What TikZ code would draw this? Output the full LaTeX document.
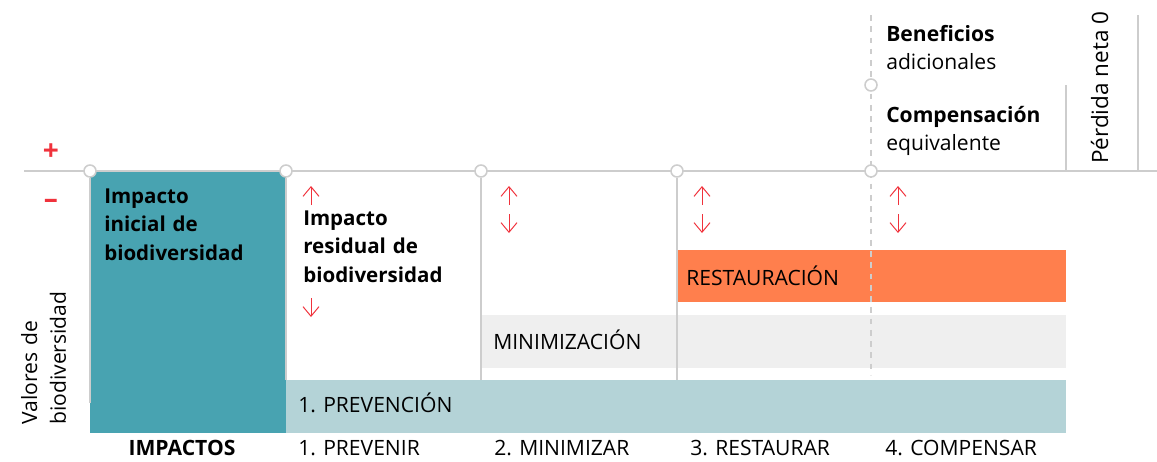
\documentclass[tikz,border=0pt]{standalone}
\usepackage{fontspec}
\setmainfont{Open Sans}
\usetikzlibrary{arrows.meta}

\definecolor{tealdark}{HTML}{48A3B1}
\definecolor{teallight}{HTML}{B4D3D7}
\definecolor{graylight}{HTML}{EFEFEF}
\definecolor{orangebar}{HTML}{FF7F4D}
\definecolor{redmark}{HTML}{F0323C}
\definecolor{lineg}{HTML}{CDCDCD}

\begin{document}
\begin{tikzpicture}[
x=0.025cm,y=-0.025cm,
dot/.style={circle,draw=lineg,fill=white,line width=1.1pt,minimum size=0.3cm,inner sep=0pt},
rule/.style={lineg,line width=1.1pt},
lbl/.style={anchor=base west,inner sep=0pt,font=\fontsize{15pt}{20.5pt}\selectfont},
blk/.style={lbl,text width=5cm,align=left},
hd/.style={blk,font=\fontsize{14.6pt}{20.5pt}\selectfont\bfseries},
sign/.style={text=redmark,font=\fontsize{20pt}{22pt}\selectfont\bfseries,inner sep=0pt},
arr/.style={redmark,line width=0.7pt,-{Straight Barb[length=2.4mm,width=4mm]}}
]
\useasboundingbox (0,0) rectangle (1157,461);

% bands
\fill[tealdark] (90,171) rectangle (286,433);
\fill[teallight] (286,380) rectangle (1066,433);
\fill[graylight] (481,315) rectangle (1066,368);
\fill[orangebar] (677,250) rectangle (1066,302);

% axis
\coordinate (ax0) at (24,171);
\coordinate (ax1) at (1157,171);
\draw[rule] (ax0) -- (ax1);
\draw[rule,dash pattern=on 4pt off 4pt] (871,15) -- (871,375);
\draw[rule] (1066,85) -- (1066,171);
\draw[rule] (1138,15) -- (1138,171);

\node[dot] (d0) at (90,171) {};
\node[dot] (d1) at (286,171) {};
\node[dot] (d2) at (481,171) {};
\node[dot] (d3) at (677,171) {};
\node[dot] (d4) at (871,171) {};
\node[dot] (d5) at (871,85) {};

\draw[rule] (d0) -- (90,403);
\draw[rule] (d1) -- (286,380);
\draw[rule] (d2) -- (481,380);
\draw[rule] (d3) -- (677,380);

\node[sign] (plus) at (51,152) {+};
\node[sign] (minus) at (51,204) {–};
\node[blk,rotate=90] (axis) at (37,425) {Valores de\\biodiversidad};

% texts
\node[hd] (ini) at (104,203) {Impacto\\inicial de\\biodiversidad};
\node[hd] (res) at (303,225) {Impacto\\residual de\\biodiversidad};
\node[blk] (ben) at (886,41) {\textbf{Beneficios}\\adicionales};
\node[blk] (comp) at (886,122) {\textbf{Compensación}\\equivalente};
\node[lbl,rotate=90,font=\fontsize{16pt}{18pt}\selectfont] (neta) at (1108,164) {Pérdida neta 0};

\node[lbl] (prev) at (298,412) {1. PREVENCIÓN};
\node[lbl] (mini) at (493,349) {MINIMIZACIÓN};
\node[lbl] (rest) at (686,285) {RESTAURACIÓN};

\node[lbl,anchor=base,font=\fontsize{15pt}{20.5pt}\selectfont\bfseries] (imp) at (182,455) {IMPACTOS};
\node[lbl] (s1) at (298,455) {1. PREVENIR};
\node[lbl] (s2) at (494,455) {2. MINIMIZAR};
\node[lbl] (s3) at (690,455) {3. RESTAURAR};
\node[lbl] (s4) at (885,455) {4. COMPENSAR};

% up / down marks
\draw[arr] (311,205) -- (311,186);
\draw[arr] (311,298) -- (311,317);
\foreach \x in {509,702,898}{
  \draw[arr] (\x,205) -- (\x,186);
  \draw[arr] (\x,214) -- (\x,233);
}
\end{tikzpicture}
\end{document}
